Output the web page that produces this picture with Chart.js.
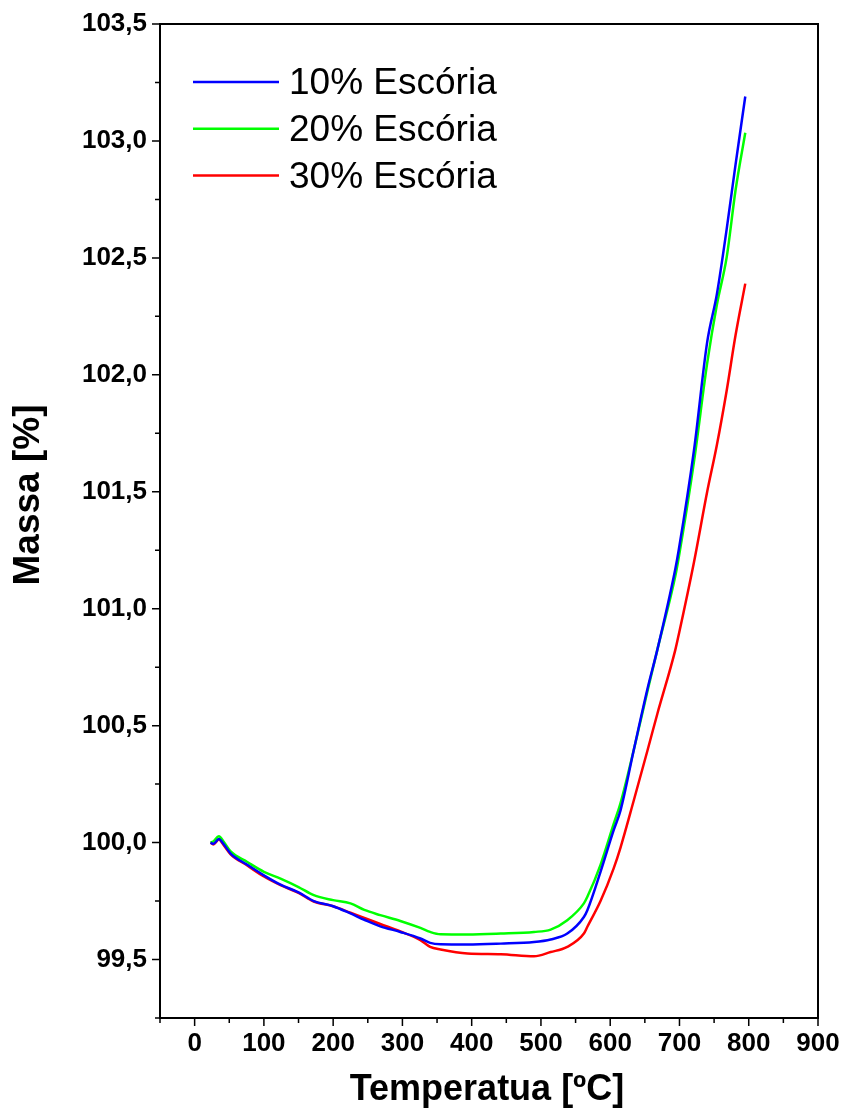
<!DOCTYPE html>
<html>
<head>
<meta charset="utf-8">
<title>Massa x Temperatura</title>
<script src="https://cdn.jsdelivr.net/npm/chart.js@4/dist/chart.umd.min.js"></script>
<style>
    html, body { margin: 0; padding: 0; background: #fff; }
    canvas { display: block; }
</style>
</head>
<body>
<canvas id="tgChart" width="845" height="1116"></canvas>
<script>
// temperatura (ºC)
const temps = [23, 27, 35, 42, 52, 76, 100, 124, 150, 172, 200, 225, 245, 268, 297, 326, 340, 355,
    394, 442, 490, 514, 538, 562, 567, 586, 605, 615, 634, 654, 668, 694, 699, 721, 740, 754, 768, 781, 795];

// massa (%) de cada amostra
const massa10 = [100.0, 99.995, 100.015, 99.993, 99.953, 99.905, 99.86, 99.82, 99.787, 99.75, 99.728, 99.697, 99.67,
    99.642, 99.618, 99.59, 99.571, 99.565, 99.564, 99.568, 99.575, 99.586, 99.611, 99.682, 99.711, 99.875,
    100.053, 100.139, 100.396, 100.66, 100.824, 101.17, 101.252, 101.679, 102.14, 102.345, 102.62, 102.9, 103.19];
const massa20 = [100.0, 100.005, 100.027, 100.003, 99.962, 99.917, 99.875, 99.846, 99.81, 99.775, 99.754, 99.74, 99.712,
    99.69, 99.665, 99.635, 99.618, 99.608, 99.607, 99.611, 99.618, 99.628, 99.668, 99.74, 99.768, 99.905,
    100.08, 100.17, 100.396, 100.65, 100.824, 101.14, 101.22, 101.63, 102.05, 102.3, 102.5, 102.79, 103.035];
const massa30 = [100.0, 99.992, 100.013, 99.989, 99.95, 99.902, 99.855, 99.818, 99.785, 99.748, 99.728, 99.7, 99.678,
    99.652, 99.62, 99.583, 99.554, 99.543, 99.526, 99.523, 99.514, 99.532, 99.554, 99.611, 99.64, 99.75,
    99.89, 99.98, 100.18, 100.396, 100.55, 100.824, 100.89, 101.2, 101.5, 101.7, 101.93, 102.17, 102.39];

const seriesLabels = ['10% Escória', '20% Escória', '30% Escória'];
const seriesColors = ['#0000ff', '#00ff00', '#ff0000'];

const FONT = "'Liberation Sans', Arial, Helvetica, sans-serif";

function toPoints(ys) {
    return temps.map((t, i) => ({ x: t, y: ys[i] }));
}

// caixa, ticks, legenda e títulos dos eixos
const frame = {
    id: 'frame',
    afterDraw(chart) {
        const ctx = chart.ctx;
        const a = chart.chartArea;
        const xs = chart.scales.x;
        const ys = chart.scales.y;
        ctx.save();
        ctx.strokeStyle = '#000';
        ctx.lineWidth = 2;
        ctx.beginPath();
        ctx.moveTo(a.left, a.top);
        ctx.lineTo(a.right, a.top);
        ctx.lineTo(a.right, a.bottom);
        ctx.stroke();

        ctx.lineWidth = 1.5;
        ctx.beginPath();
        xs.ticks.forEach(t => {
            const px = xs.getPixelForValue(t.value);
            const len = (Math.round(t.value) % 100 === 0) ? 8 : 5;
            ctx.moveTo(px, a.bottom);
            ctx.lineTo(px, a.bottom + len);
        });
        ys.ticks.forEach(t => {
            const py = ys.getPixelForValue(t.value);
            const major = Math.abs(t.value * 2 - Math.round(t.value * 2)) < 1e-6;
            ctx.moveTo(a.left, py);
            ctx.lineTo(a.left - (major ? 8 : 5), py);
        });
        ctx.stroke();

        // legenda
        ctx.font = '37px ' + FONT;
        ctx.textBaseline = 'middle';
        ctx.textAlign = 'left';
        chart.data.datasets.forEach((ds, i) => {
            const y = 82 + i * 46.7;
            ctx.strokeStyle = ds.borderColor;
            ctx.lineWidth = 2.5;
            ctx.beginPath();
            ctx.moveTo(193, y);
            ctx.lineTo(279, y);
            ctx.stroke();
            ctx.fillStyle = '#000';
            ctx.fillText(ds.label, 289, y + 2);
        });

        // títulos
        ctx.fillStyle = '#000';
        ctx.font = 'bold 36px ' + FONT;
        ctx.textAlign = 'center';
        ctx.fillText('Temperatua [ºC]', 487, 1090);
        ctx.save();
        ctx.translate(29, 495);
        ctx.rotate(-Math.PI / 2);
        ctx.font = 'bold 37px ' + FONT;
        ctx.fillText('Massa [%]', 0, 0);
        ctx.restore();
        ctx.restore();
    }
};

const config = {
    type: 'line',
    data: {
        datasets: seriesLabels.map((label, i) => ({
            label: label,
            data: toPoints([massa10, massa20, massa30][i]),
            borderColor: seriesColors[i],
            backgroundColor: seriesColors[i],
            borderWidth: 2.5,
            pointRadius: 0,
            cubicInterpolationMode: 'monotone',
            fill: false
        }))
    },
    options: {
        responsive: false,
        animation: false,
        devicePixelRatio: 1,
        layout: { padding: { top: 24, right: 27, left: 0, bottom: 0 } },
        plugins: {
            legend: { display: false },
            tooltip: { enabled: false }
        },
        scales: {
            x: {
                type: 'linear',
                min: -50,
                max: 900,
                grid: { display: false, drawTicks: false },
                border: { display: true, color: '#000', width: 2 },
                ticks: {
                    stepSize: 50,
                    autoSkip: false,
                    maxRotation: 0,
                    padding: 10,
                    color: '#000',
                    font: { family: FONT, size: 26, weight: 'bold' },
                    callback: v => (v >= 0 && Math.round(v) % 100 === 0) ? String(Math.round(v)) : ''
                },
                afterFit: s => { s.height = 98; s.paddingLeft = 0; s.paddingRight = 0; }
            },
            y: {
                type: 'linear',
                min: 99.25,
                max: 103.5,
                grid: { display: false, drawTicks: false },
                border: { display: true, color: '#000', width: 2 },
                ticks: {
                    stepSize: 0.25,
                    autoSkip: false,
                    padding: 13,
                    color: '#000',
                    font: { family: FONT, size: 26, weight: 'bold' },
                    callback: v => Math.abs(v * 2 - Math.round(v * 2)) < 1e-6 ? v.toFixed(1).replace('.', ',') : ''
                },
                afterFit: s => { s.width = 160; s.paddingTop = 0; s.paddingBottom = 0; }
            }
        }
    },
    plugins: [frame]
};

const ctx = document.getElementById('tgChart').getContext('2d');
new Chart(ctx, config);
</script>
</body>
</html>
